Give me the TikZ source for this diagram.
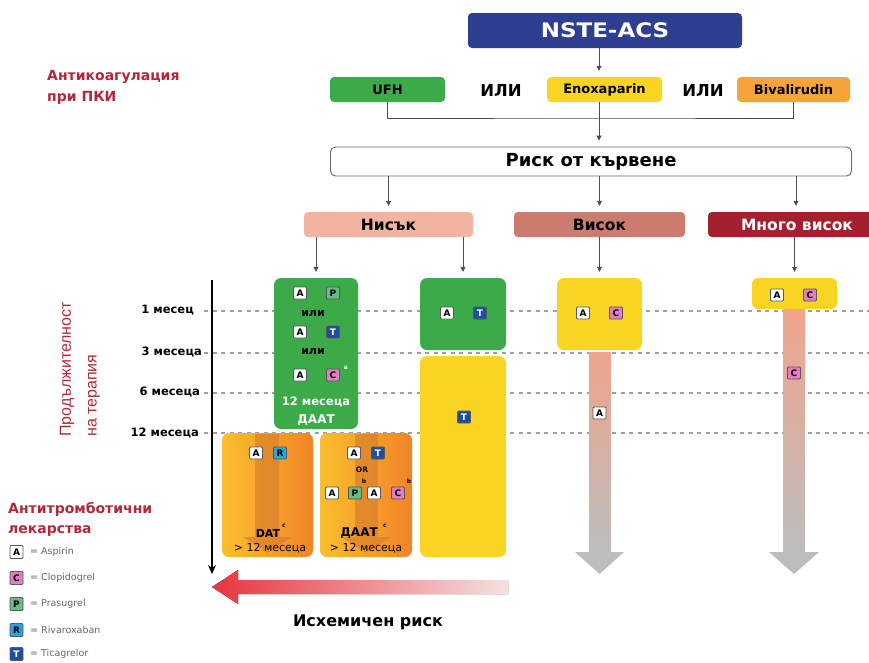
\documentclass[tikz,border=0pt]{standalone}
\usepackage{fontspec}
\usepackage{graphicx}
\setmainfont{DejaVu Sans}
\newfontfamily\libfont{Liberation Sans}
\usetikzlibrary{arrows.meta}
\definecolor{nsteblue}{HTML}{2E3F92}
\definecolor{mygreen}{HTML}{3DAA4A}
\definecolor{myyellow}{HTML}{F9D423}
\definecolor{bivor}{HTML}{F5A33B}
\definecolor{lowc}{HTML}{F2B3A1}
\definecolor{highc}{HTML}{CB7C6E}
\definecolor{vhighc}{HTML}{A5202F}
\definecolor{redtxt}{HTML}{B1283A}
\definecolor{orL}{HTML}{FBBE2E}
\definecolor{orR}{HTML}{F08427}
\definecolor{orStripe}{HTML}{D2762C}
\definecolor{drC}{HTML}{E27CC3}
\definecolor{drP}{HTML}{66BD85}
\definecolor{drR}{HTML}{25A6DE}
\definecolor{drT}{HTML}{1D4F9E}
\definecolor{barTop}{HTML}{F0A48C}
\definecolor{barBot}{HTML}{BDBDBD}
\definecolor{dashc}{HTML}{9AA0A8}
\definecolor{arrRed}{HTML}{E8343F}
\definecolor{arrPale}{HTML}{F3E2E0}
\newcommand\fs[2]{\fontsize{#1}{#2}\selectfont}
\begin{document}
\begin{tikzpicture}[x=1pt,y=-1pt,
  box/.style={rounded corners=4pt, inner sep=0pt, align=center},
  conn/.style={draw=black!70, line width=0.9pt},
  arr/.style={conn, -{Triangle[length=5pt,width=5pt]}, shorten >=6pt},
  drug/.style={draw=black!65, line width=0.8pt, minimum width=13pt, minimum height=12pt, inner sep=0pt, rounded corners=1pt, font=\bfseries\fs{9}{9}},
  dA/.style={drug, fill=white},
  dC/.style={drug, fill=drC},
  dP/.style={drug, fill=drP},
  dR/.style={drug, fill=drR},
  dT/.style={drug, fill=drT, text=white},
  supx/.style={inner sep=0pt, font=\bfseries\fs{6}{6}},
  gridl/.style={draw=dashc, line width=1.2pt, dash pattern=on 4pt off 4.5pt},
  legt/.style={anchor=west, inner sep=0pt, text=black!60, font=\fs{9.5}{9.5}},
  month/.style={anchor=east, inner sep=0pt, font=\bfseries\fs{11.5}{11.5}},
  stripe/.style={fill=orStripe, opacity=0.55}
]
\useasboundingbox (0,0) rectangle (869,662);

% grid lines
\draw[gridl] (204,311) -- (869,311);
\draw[gridl] (204,353) -- (869,353);
\draw[gridl] (204,393) -- (869,393);
\draw[gridl] (204,433) -- (869,433);

% top
\node[box, fill=nsteblue, minimum width=274pt, minimum height=35pt, text=white, font=\bfseries\fs{20}{20}] (nste) at (605,30.5) {\scalebox{1.15}[1]{NSTE-ACS}};
\node[anchor=west, inner sep=0pt, align=left, text=redtxt, font=\bfseries\fs{14}{21}] (anticoag) at (47,87) {Антикоагулация\\при ПКИ};
\node[box, fill=mygreen, minimum width=115pt, minimum height=25pt, font=\bfseries\fs{13}{13}] (ufh) at (387.5,89.5) {UFH};
\node[inner sep=0pt, font=\bfseries\fs{16.5}{16.5}] (or1) at (501,90) {ИЛИ};
\node[box, fill=myyellow, minimum width=115pt, minimum height=25pt, font=\bfseries\fs{13}{13}] (enox) at (604.5,89.5) {Enoxaparin};
\node[inner sep=0pt, font=\bfseries\fs{16.5}{16.5}] (or2) at (703,90) {ИЛИ};
\node[box, fill=bivor, minimum width=113pt, minimum height=25pt, font=\bfseries\fs{13}{13}] (bival) at (793.5,89.5) {Bivalirudin};
\coordinate (cB) at (599,0);
\coordinate (cC) at (796,0);
\coordinate (bus) at (599,118);
\draw[arr] (nste.south -| cB) -- (enox.north -| cB);
\draw[conn] (ufh.south) |- (bus) -| (bival.south);

\node[box, draw=black!60, line width=0.9pt, fill=white, rounded corners=5pt, minimum width=521pt, minimum height=29pt, font=\bfseries\fs{18}{18}] (risk) at (591,161.5) {Риск от кървене};
\draw[arr] (enox.south -| cB) -- (risk.north -| cB);

\node[box, fill=lowc, minimum width=169pt, minimum height=25pt, font=\bfseries\fs{15.5}{15.5}] (low) at (388.5,224.5) {Нисък};
\node[box, fill=highc, minimum width=171pt, minimum height=25pt, font=\bfseries\fs{15.5}{15.5}] (high) at (599.5,224.5) {Висок};
\node[box, fill=vhighc, minimum width=165pt, minimum height=25pt] (vh) at (790.5,224.5) {};
\node[inner sep=0pt, text=white, font=\bfseries\fs{15.5}{15.5}] (vht) at (797,225) {Много висок};
\draw[arr] (risk.south -| low) -- (low.north);
\draw[arr] (risk.south -| high) -- (high.north);
\draw[arr] (risk.south -| cC) -- (vh.north -| cC);

% axis and labels
\coordinate (axtop) at (212,280);
\coordinate (axbot) at (212,574);
\draw[line width=1.3pt, -{Stealth[length=9pt,width=8pt]}] (axtop) -- (axbot);
\node[month] (m1) at (194,310) {1 месец};
\node[month] (m3) at (202,352) {3 месеца};
\node[month] (m6) at (200,392) {6 месеца};
\node[month] (m12) at (199,433) {12 месеца};
\node[rotate=90, anchor=west, inner sep=0pt, text=redtxt, font=\libfont\fs{16}{16}] (dur1) at (67,437) {Продължителност};
\node[rotate=90, anchor=west, inner sep=0pt, text=redtxt, font=\libfont\fs{16}{16}] (dur2) at (94,437) {на терапия};

% boxes
\node[box, rounded corners=7pt, fill=mygreen, minimum width=84pt, minimum height=151pt] (g1) at (316,353.5) {};
\node[box, rounded corners=7pt, fill=mygreen, minimum width=86pt, minimum height=72pt] (g2) at (463,314) {};
\node[box, rounded corners=7pt, fill=myyellow, minimum width=86pt, minimum height=201pt] (yT) at (463,456.5) {};
\node[box, rounded corners=7pt, left color=orL, right color=orR, minimum width=91pt, minimum height=124pt] (o1) at (267.5,495) {};
\node[box, rounded corners=7pt, left color=orL, right color=orR, minimum width=92pt, minimum height=124pt] (o2) at (366,495) {};
\node[box, rounded corners=7pt, fill=myyellow, minimum width=85pt, minimum height=72pt] (hy) at (599.5,314) {};
\node[box, rounded corners=6pt, fill=myyellow, minimum width=85pt, minimum height=31pt] (vy) at (794.5,293.5) {};

\draw[arr] (low.south -| g1) -- (g1.north);
\draw[arr] (low.south -| g2) -- (g2.north);
\draw[arr] (high.south -| hy) -- (hy.north);
\draw[arr] (vh.south -| vy) -- (vy.north);

% stripes in orange boxes
\fill[stripe] (255,434) -- (279,434) -- (279,537) -- (292,537) -- (267,553) -- (243,537) -- (255,537) -- cycle;
\fill[stripe] (355,434) -- (378,434) -- (378,537) -- (391,537) -- (366,553) -- (341,537) -- (355,537) -- cycle;

% bars
\fill[top color=barTop, bottom color=barBot] (589,352) rectangle (611,552);
\fill[barBot] (575,552) -- (624,552) -- (599.5,574) -- cycle;
\fill[top color=barTop, bottom color=barBot] (783,309) rectangle (805,552);
\fill[barBot] (769,552) -- (819,552) -- (794,574) -- cycle;

% green box 1 content
\node[dA] (g1a1) at (300,293) {A};
\node[dP] (g1p) at (333,293) {P};
\node[inner sep=0pt, font=\bfseries\fs{11}{11}] (g1or1) at (313,313) {или};
\node[dA] (g1a2) at (300,332) {A};
\node[dT] (g1t) at (333,332) {T};
\node[inner sep=0pt, font=\bfseries\fs{11}{11}] (g1or2) at (313,351) {или};
\node[dA] (g1a3) at (300,375) {A};
\node[dC] (g1c) at (333,375) {C};
\node[supx, text=white] (g1sa) at (346,368) {a};
\node[inner sep=0pt, text=white, font=\bfseries\fs{11.5}{11.5}] (g1m) at (316,402) {12 месеца};
\node[inner sep=0pt, text=white, font=\bfseries\fs{12}{12}] (g1d) at (316,420) {ДААТ};

% green box 2, yellow T
\node[dA] (g2a) at (447,313) {A};
\node[dT] (g2t) at (480,313) {T};
\node[dT] (yTt) at (464,417) {T};

% orange box 1
\node[dA] (o1a) at (256,453) {A};
\node[dR] (o1r) at (280,453) {R};
\node[inner sep=0pt, font=\bfseries\fs{11}{11}] (o1d) at (268,533) {DAT};
\node[supx] (o1c) at (284,526) {c};
\node[inner sep=0pt, font=\fs{11}{11}] (o1m) at (270,548) {> 12 месеца};

% orange box 2
\node[dA] (o2a1) at (354,453) {A};
\node[dT] (o2t) at (378,453) {T};
\node[inner sep=0pt, font=\bfseries\fs{7.5}{7.5}] (o2or) at (362,470) {OR};
\node[supx] (o2b1) at (364,481) {b};
\node[supx] (o2b2) at (409,481) {b};
\node[dA] (o2a2) at (332,493) {A};
\node[dP] (o2p) at (355,493) {P};
\node[dA] (o2a3) at (374,493) {A};
\node[dC] (o2c) at (398,493) {C};
\node[inner sep=0pt, font=\bfseries\fs{12}{12}] (o2d) at (359,533) {ДААТ};
\node[supx] (o2c2) at (385,526) {c};
\node[inner sep=0pt, font=\fs{11}{11}] (o2m) at (366,548) {> 12 месеца};

% high / very high
\node[dA] (hya) at (583,313) {A};
\node[dC] (hyc) at (616,313) {C};
\node[dA] (hba) at (599.5,413) {A};
\node[dA] (vya) at (777,295) {A};
\node[dC] (vyc) at (810,295) {C};
\node[dC] (vbc) at (794,373) {C};

% ischemic risk arrow
\fill[left color=arrRed, right color=arrPale] (212,587) -- (238,570) -- (238,580) -- (508,580) -- (508,594) -- (238,594) -- (238,604) -- cycle;
\node[inner sep=0pt, font=\bfseries\fs{16}{16}] (isch) at (368,622) {Исхемичен риск};

% legend
\node[anchor=west, inner sep=0pt, align=left, text=redtxt, font=\bfseries\fs{14}{20}] (leg) at (8,519) {Антитромботични\\лекарства};
\node[dA, minimum height=13pt] (lA) at (16.5,552) {A};
\node[legt] (lAt) at (30,552) {= Aspirin};
\node[dC, minimum height=13pt] (lC) at (16.5,578) {C};
\node[legt] (lCt) at (30,578) {= Clopidogrel};
\node[dP, minimum height=13pt] (lP) at (16.5,604) {P};
\node[legt] (lPt) at (30,604) {= Prasugrel};
\node[dR, minimum height=13pt] (lR) at (16.5,630) {R};
\node[legt] (lRt) at (30,630) {= Rivaroxaban};
\node[dT, minimum height=13pt] (lT) at (16.5,654) {T};
\node[legt] (lTt) at (30,654) {= Ticagrelor};
\end{tikzpicture}
\end{document}
